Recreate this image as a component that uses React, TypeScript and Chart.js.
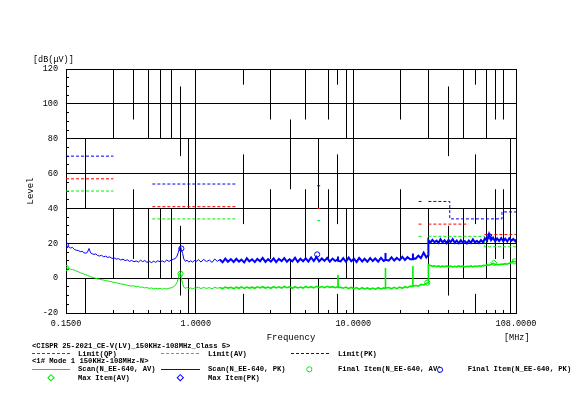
import React, { useEffect, useRef } from 'react';
import { Chart, registerables } from 'chart.js';

Chart.register(...registerables);

// ---------- data ----------
const freqs: number[] = [
  0.150, 0.155, 0.160, 0.165, 0.170, 0.175, 0.180, 0.185, 0.190, 0.195,
  0.200, 0.205, 0.210, 0.215, 0.220, 0.226, 0.232, 0.238, 0.245, 0.252,
  0.260, 0.268, 0.276, 0.285, 0.294, 0.303, 0.313, 0.323, 0.334, 0.345,
  0.356, 0.368, 0.380, 0.392, 0.405, 0.418, 0.432, 0.446, 0.460, 0.475,
  0.490, 0.506, 0.522, 0.540, 0.557, 0.575, 0.594, 0.613, 0.633, 0.654,
  0.675, 0.697, 0.720, 0.740, 0.760, 0.775, 0.790, 0.800, 0.810, 0.825,
  0.840, 0.860, 0.880, 0.905, 0.930, 0.955, 0.980,
  1.00, 1.04, 1.08, 1.12, 1.17, 1.22, 1.27, 1.32, 1.37, 1.42,
  1.48, 1.54, 1.60, 1.67, 1.74, 1.81, 1.88, 1.95, 2.03, 2.11,
  2.19, 2.28, 2.37, 2.46, 2.56, 2.66, 2.77, 2.88, 3.00, 3.12,
  3.24, 3.37, 3.51, 3.65, 3.79, 3.94, 4.10, 4.27, 4.44, 4.62,
  4.80, 4.99, 5.19, 5.40, 5.62, 5.84, 6.07, 6.32, 6.57, 6.83,
  7.10, 7.39, 7.68, 7.97, 8.00, 8.03, 8.31, 8.64, 8.99, 9.35,
  9.72, 10.1, 10.5, 10.9, 11.4, 11.8, 12.3, 12.8, 13.3, 13.8,
  14.4, 15.0, 15.6, 15.95, 16.0, 16.05, 16.8, 17.5, 18.2, 18.9,
  19.7, 20.5, 21.3, 22.1, 23.0, 23.85, 23.9, 23.95, 24.9, 25.9,
  26.9, 28.0, 29.1, 29.9,
  30.0, 30.9, 31.8, 32.8, 33.8, 34.8, 35.8, 36.9, 38.0, 39.1,
  40.3, 41.5, 42.8, 44.1, 45.4, 46.8, 48.2, 49.6, 51.1, 52.6,
  54.2, 55.8, 57.5, 59.2, 61.0, 62.8, 64.7, 66.6, 68.6, 70.7,
  72.8, 75.0, 77.3, 79.6, 82.0, 84.4, 87.0, 89.6, 92.3, 95.0,
  97.9, 100.8, 103.8, 106.9, 108.0,
];

const pkScan: number[] = [
  18.6, 18.2, 17.3, 17.6, 16.4, 16.0, 15.8, 15.2, 15.4, 14.6,
  14.3, 14.8, 17.0, 14.5, 14.0, 13.6, 13.9, 13.0, 12.7, 13.1,
  12.3, 12.6, 11.9, 12.2, 11.3, 11.6, 10.9, 11.2, 10.4, 10.9,
  10.1, 10.5, 9.6, 10.2, 9.4, 9.9, 9.2, 10.3, 9.5, 10.1,
  9.0, 9.8, 8.9, 9.7, 9.1, 10.0, 9.3, 9.9, 9.2, 10.4,
  9.6, 10.3, 10.8, 11.2, 12.6, 14.8, 17.2, 18.0, 16.5, 14.2,
  11.0, 9.6, 10.3, 9.2, 10.0, 9.1, 10.2,
  9.4, 10.6, 9.2, 10.8, 9.5, 10.4, 9.0, 11.0, 9.6, 10.7,
  9.1, 11.2, 9.4, 10.9, 9.3, 11.1, 9.5, 10.6, 9.0, 11.4,
  9.6, 10.8, 9.2, 11.0, 9.7, 11.6, 9.3, 10.9, 9.5, 11.3,
  9.2, 11.0, 9.8, 11.5, 9.4, 10.8, 9.6, 11.7, 9.3, 11.1,
  9.7, 11.4, 9.5, 11.9, 9.8, 12.2, 9.6, 11.3, 9.9, 11.6,
  9.5, 11.2, 9.8, 10.9, 12.4, 9.9, 9.6, 11.5, 9.4, 11.8,
  9.7, 11.2, 9.3, 11.6, 9.6, 11.1, 9.4, 11.5, 9.8, 11.3,
  9.5, 11.7, 9.9, 10.4, 14.4, 10.6, 10.0, 11.9, 10.1, 11.6,
  10.3, 12.2, 10.4, 12.0, 10.8, 10.9, 14.2, 11.3, 11.2, 12.9,
  11.5, 14.6, 11.9, 13.2,
  21.8, 20.4, 22.0, 20.6, 21.5, 20.2, 22.3, 20.5, 21.7, 20.1,
  21.9, 20.6, 22.4, 20.3, 21.6, 20.0, 21.8, 20.4, 21.2, 19.9,
  21.5, 20.3, 22.2, 20.5, 21.4, 20.2, 21.8, 20.6, 22.9, 21.4,
  25.3, 21.8, 23.2, 21.1, 22.8, 21.3, 23.0, 21.2, 22.6, 21.0,
  22.9, 21.4, 22.5, 21.1, 22.2,
];

const avScan: number[] = [
  6.0, 5.6, 5.2, 4.9, 4.6, 4.0, 3.6, 3.1, 2.7, 2.3,
  2.0, 1.6, 1.2, 0.9, 0.5, 0.2, -0.1, -0.4, -0.6, -0.9,
  -1.1, -1.4, -1.6, -1.9, -2.2, -2.5, -2.7, -3.0, -3.3, -3.5,
  -3.8, -4.1, -4.3, -4.6, -4.4, -5.0, -4.8, -5.3, -5.1, -5.6,
  -5.4, -5.9, -5.6, -6.1, -5.8, -6.2, -5.9, -6.3, -6.0, -6.2,
  -5.8, -5.6, -5.0, -4.2, -2.5, 0.0, 2.8, 3.0, 0.5, -3.2,
  -5.2, -5.8, -5.4, -6.0, -5.6, -6.1, -5.7,
  -5.7, -5.2, -6.0, -5.3, -5.9, -5.4, -6.1, -5.2, -5.8, -5.4,
  -6.0, -5.1, -5.7, -5.3, -6.0, -5.2, -5.8, -5.0, -5.9, -5.1,
  -5.7, -5.2, -5.8, -5.0, -5.6, -4.9, -5.7, -5.1, -5.8, -4.9,
  -5.6, -5.0, -5.7, -4.8, -5.5, -5.0, -5.8, -4.9, -5.6, -5.1,
  -5.7, -4.8, -5.5, -4.9, -5.6, -4.7, -5.4, -4.8, -5.5, -4.7,
  -5.3, -4.9, -5.5, -5.0, 2.0, -5.3, -5.2, -5.8, -5.1, -6.0,
  -5.3, -6.1, -5.4, -6.3, -5.5, -6.2, -5.6, -6.4, -5.7, -6.3,
  -5.5, -6.2, -5.6, -5.9, 5.8, -5.7, -5.4, -6.1, -5.3, -6.0,
  -5.1, -5.8, -4.9, -5.5, -4.6, -4.8, 7.0, -4.5, -4.2, -4.6,
  -3.6, -3.9, -3.0, -2.7,
  7.7, 7.2, 6.8, 7.1, 6.6, 7.0, 6.5, 6.9, 6.6, 7.0,
  6.5, 6.9, 6.4, 6.8, 6.5, 7.0, 6.6, 6.9, 6.4, 6.8,
  6.6, 7.0, 6.5, 6.9, 6.7, 7.1, 6.8, 7.2, 7.3, 7.6,
  7.4, 7.8, 8.6, 7.6, 7.9, 7.7, 8.1, 7.9, 8.3, 8.0,
  8.6, 8.9, 9.6, 9.4, 9.8,
];

// limit lines: each inner list is one connected run of [MHz, dBuV]
const limitQP: number[][][] = [
  [[0.15, 57], [0.3, 57]],
  [[0.53, 41], [1.8, 41]],
  [[5.9, 40], [6.2, 40]],
  [[26, 31], [28, 31]],
  [[30, 31], [54, 31]],
  [[68, 25], [108, 25]],
];
const limitAV: number[][][] = [
  [[0.15, 50], [0.3, 50]],
  [[0.53, 34], [1.8, 34]],
  [[5.9, 33], [6.2, 33]],
  [[26, 24], [28, 24]],
  [[30, 24], [68, 24], [68, 18], [108, 18]],
];
const limitPK: number[][][] = [
  [[0.15, 70], [0.3, 70]],
  [[0.53, 54], [1.8, 54]],
  [[5.9, 53], [6.2, 53]],
  [[26, 44], [28, 44]],
  [[30, 44], [41, 44], [41, 34], [88, 34], [88, 38], [108, 38]],
];

const finalPK: number[][] = [[0.15, 18.8], [0.81, 17.0], [5.9, 13.6], [73, 24.0]];
const finalAV: number[][] = [[0.15, 5.8], [0.8, 2.5], [29.5, -2.6], [106, 9.6]];
const maxAV: number[][] = [[78, 8.8]];

const xTickValues: number[] = [
  0.15, 0.2, 0.3, 0.4, 0.5, 0.6, 0.7, 0.8, 0.9,
  1, 2, 3, 4, 5, 6, 7, 8, 9,
  10, 20, 30, 40, 50, 60, 70, 80, 90, 100, 108,
];
const xLabelValues: number[] = [0.15, 1, 10, 108];
const yTickValues: number[] = [
  -20, -15, -10, -5, 0, 5, 10, 15, 20, 25, 30, 35, 40, 45, 50, 55, 60, 65,
  70, 75, 80, 85, 90, 95, 100, 105, 110, 115, 120,
];
const yLabelValues: number[] = [-20, 0, 20, 40, 60, 80, 100, 120];

// ---------- styles ----------
const MONO = "'Liberation Mono', 'DejaVu Sans Mono', monospace";
const BLUE = '#0000ff';
const GREEN = '#00ee00';
const RED = '#ff0000';
const LIMIT_DASH = [3, 2];

// broken-grid look of the vertical log lines: dash phase per line (px)
const PX_PER_DB = 244 / 140;
const DASH = 40 * PX_PER_DB;
const gridDashStyle: Record<string, { dash: number[]; offset: number }> = {
  solid: { dash: [], offset: 0 },
  B: { dash: [DASH, DASH], offset: 0 },
  C: { dash: [DASH, DASH], offset: DASH },
  D: { dash: [DASH, DASH], offset: 11 * PX_PER_DB },
  E: { dash: [DASH, DASH], offset: 70 * PX_PER_DB },
  F: { dash: [DASH, DASH], offset: 31 * PX_PER_DB },
  G: { dash: [DASH, DASH], offset: 51 * PX_PER_DB },
  H: { dash: [100 * PX_PER_DB, DASH], offset: 100 * PX_PER_DB },
};
const gridStyleByTick: Record<string, string> = {
  '0.15': 'solid', '0.2': 'C', '0.3': 'B', '0.4': 'D', '0.5': 'B', '0.6': 'B',
  '0.7': 'B', '0.8': 'E', '0.9': 'C', '1': 'solid', '2': 'F', '3': 'D', '4': 'G',
  '5': 'D', '6': 'C', '7': 'D', '8': 'F', '9': 'B', '10': 'solid', '20': 'D',
  '30': 'B', '40': 'E', '50': 'B', '60': 'F', '70': 'B', '80': 'D', '90': 'D',
  '100': 'H', '108': 'solid',
};

function tickStyle(ctx: any) {
  if (!ctx || !ctx.tick) return gridDashStyle.solid;
  const key = String(ctx.tick.value);
  return gridDashStyle[gridStyleByTick[key] || 'solid'];
}

function runs(list: number[][][]) {
  const out: { x: number; y: number | null }[] = [];
  list.forEach((run) => {
    run.forEach(([x, y]) => out.push({ x, y }));
    out.push({ x: run[run.length - 1][0], y: null });
  });
  return out;
}
const pairs = (list: number[][]) => list.map(([x, y]) => ({ x, y }));

// dense sweep region is drawn as a thicker trace
const denseWidth = (thin: number, thick: number) => (ctx: any) =>
  ctx.p0 && ctx.p0.parsed && ctx.p0.parsed.x >= 1.4 ? thick : thin;

export default function App() {
  const ref = useRef<HTMLCanvasElement>(null);

  useEffect(() => {
    if (!ref.current) return;
    const scanPK = freqs.map((x, i) => ({ x, y: pkScan[i] }));
    const scanAV = freqs.map((x, i) => ({ x, y: avScan[i] }));

    const marker = (data: any[], color: string, style: string, r: number) => ({
      data,
      showLine: false,
      pointStyle: style,
      pointRadius: r,
      pointBorderColor: color,
      pointBackgroundColor: 'rgba(0,0,0,0)',
      pointBorderWidth: 1,
      borderColor: color,
    });
    const limit = (data: any[], color: string) => ({
      data,
      borderColor: color,
      borderWidth: 1,
      borderDash: LIMIT_DASH,
      pointRadius: 0,
      spanGaps: false,
      tension: 0,
    });

    const chart = new Chart(ref.current, {
      type: 'line',
      data: {
        datasets: [
          marker(pairs(finalPK), BLUE, 'circle', 2.6) as any,
          marker(pairs(finalAV), GREEN, 'circle', 2.6) as any,
          marker(pairs(maxAV), GREEN, 'rectRot', 3) as any,
          {
            data: scanPK, borderColor: BLUE, borderWidth: 1, pointRadius: 0, tension: 0,
            segment: { borderWidth: denseWidth(1, 2) },
          } as any,
          {
            data: scanAV, borderColor: GREEN, borderWidth: 1, pointRadius: 0, tension: 0,
            segment: { borderWidth: denseWidth(1, 1.6) },
          } as any,
          limit(runs(limitPK), BLUE) as any,
          limit(runs(limitQP), RED) as any,
          limit(runs(limitAV), GREEN) as any,
        ],
      },
      options: {
        animation: false,
        responsive: false,
        maintainAspectRatio: false,
        events: [],
        layout: { padding: { left: 0, top: 69, right: 69, bottom: 0 } },
        plugins: { legend: { display: false }, tooltip: { enabled: false }, title: { display: false } },
        scales: {
          x: {
            type: 'logarithmic',
            min: 0.15,
            max: 108,
            afterBuildTicks: (s: any) => {
              s.ticks = xTickValues.map((value) => ({ value }));
            },
            afterFit: (s: any) => {
              s.height = 101;
            },
            ticks: {
              autoSkip: false,
              maxRotation: 0,
              minRotation: 0,
              padding: 9,
              color: '#000',
              font: { family: MONO, size: 8.5 },
              callback: (v: any) => (xLabelValues.includes(Number(v)) ? Number(v).toFixed(4) : ''),
            },
            grid: {
              color: '#000',
              lineWidth: 1,
              drawTicks: true,
              tickLength: -3,
              tickColor: '#000',
            },
            border: {
              display: true,
              color: '#000',
              width: 1,
              dash: (ctx: any) => tickStyle(ctx).dash,
              dashOffset: (ctx: any) => tickStyle(ctx).offset,
            } as any,
            title: {
              display: true,
              text: 'Frequency',
              color: '#000',
              font: { family: MONO, size: 9 },
              padding: { top: 0, bottom: 70.5 },
            },
          },
          y: {
            type: 'linear',
            min: -20,
            max: 120,
            afterBuildTicks: (s: any) => {
              s.ticks = yTickValues.map((value) => ({ value }));
            },
            afterFit: (s: any) => {
              s.width = 66;
            },
            ticks: {
              autoSkip: false,
              padding: 11,
              color: '#000',
              font: { family: MONO, size: 8.5 },
              callback: (v: any) => (yLabelValues.includes(Number(v)) ? String(v) : ''),
            },
            grid: {
              color: (ctx: any) => (ctx.tick && ctx.tick.value % 20 === 0 ? '#000' : 'rgba(0,0,0,0)'),
              lineWidth: 1,
              drawTicks: true,
              tickLength: -3,
              tickColor: '#000',
            },
            border: { display: true, color: '#000', width: 1 },
            title: {
              display: true,
              text: 'Level',
              color: '#000',
              font: { family: MONO, size: 9 },
              padding: { top: 25.5, bottom: 0 },
            },
          },
        },
      } as any,
    });
    return () => chart.destroy();
  }, []);

  const legendFont = { fontFamily: MONO, fontSize: 7.2, fontWeight: 700 as any, fill: '#000' };
  const unitFont = { fontFamily: MONO, fontSize: 8.5, fill: '#000' };

  return (
    <div style={{ position: 'fixed', left: 0, top: 0, width: 585, height: 414, background: '#fff', overflow: 'hidden' }}>
      <canvas ref={ref} width={585} height={414} style={{ position: 'absolute', left: 0, top: 0, width: 585, height: 414 }} />
      <svg width={585} height={414} style={{ position: 'absolute', left: 0, top: 0, pointerEvents: 'none' }}>
        <text x={33} y={60} dominantBaseline="central" {...unitFont}>[dB(μV)]</text>
        <text x={504} y={338} dominantBaseline="central" {...unitFont}>[MHz]</text>

        <text x={32} y={346} dominantBaseline="central" {...legendFont}>{'<CISPR 25-2021_CE-V(LV)_150KHz-108MHz_Class 5>'}</text>

        <line x1={32} y1={353.5} x2={70} y2={353.5} stroke={RED} strokeWidth={1} strokeDasharray="3,2" />
        <text x={78} y={353.5} dominantBaseline="central" {...legendFont}>Limit(QP)</text>
        <line x1={161} y1={353.5} x2={199} y2={353.5} stroke={GREEN} strokeWidth={1} strokeDasharray="3,2" />
        <text x={208} y={353.5} dominantBaseline="central" {...legendFont}>Limit(AV)</text>
        <line x1={291} y1={353.5} x2={329} y2={353.5} stroke={BLUE} strokeWidth={1} strokeDasharray="3,2" />
        <text x={338} y={353.5} dominantBaseline="central" {...legendFont}>Limit(PK)</text>

        <text x={32} y={361.3} dominantBaseline="central" {...legendFont}>{'<1# Mode 1 150KHz-108MHz-N>'}</text>

        <line x1={32} y1={369.5} x2={70} y2={369.5} stroke={GREEN} strokeWidth={1} />
        <text x={78} y={369.3} dominantBaseline="central" {...legendFont}>Scan(N_EE-640, AV)</text>
        <line x1={161} y1={369.5} x2={200} y2={369.5} stroke={BLUE} strokeWidth={1} />
        <text x={208} y={369.3} dominantBaseline="central" {...legendFont}>Scan(N_EE-640, PK)</text>
        <circle cx={309.3} cy={369.3} r={2.6} fill="none" stroke={GREEN} strokeWidth={1} />
        <text x={338} y={369.3} dominantBaseline="central" {...legendFont}>Final Item(N_EE-640, AV)</text>
        <circle cx={440} cy={369.8} r={2.6} fill="#fff" stroke={BLUE} strokeWidth={1} />
        <text x={467.7} y={369.3} dominantBaseline="central" {...legendFont}>Final Item(N_EE-640, PK)</text>

        <rect x={48.8} y={375.5} width={4.4} height={4.4} fill="none" stroke={GREEN} strokeWidth={1} transform="rotate(45 51 377.7)" />
        <text x={78} y={377.7} dominantBaseline="central" {...legendFont}>Max Item(AV)</text>
        <rect x={178.1} y={375.5} width={4.4} height={4.4} fill="none" stroke={BLUE} strokeWidth={1} transform="rotate(45 180.3 377.7)" />
        <text x={208} y={377.7} dominantBaseline="central" {...legendFont}>Max Item(PK)</text>
      </svg>
    </div>
  );
}
